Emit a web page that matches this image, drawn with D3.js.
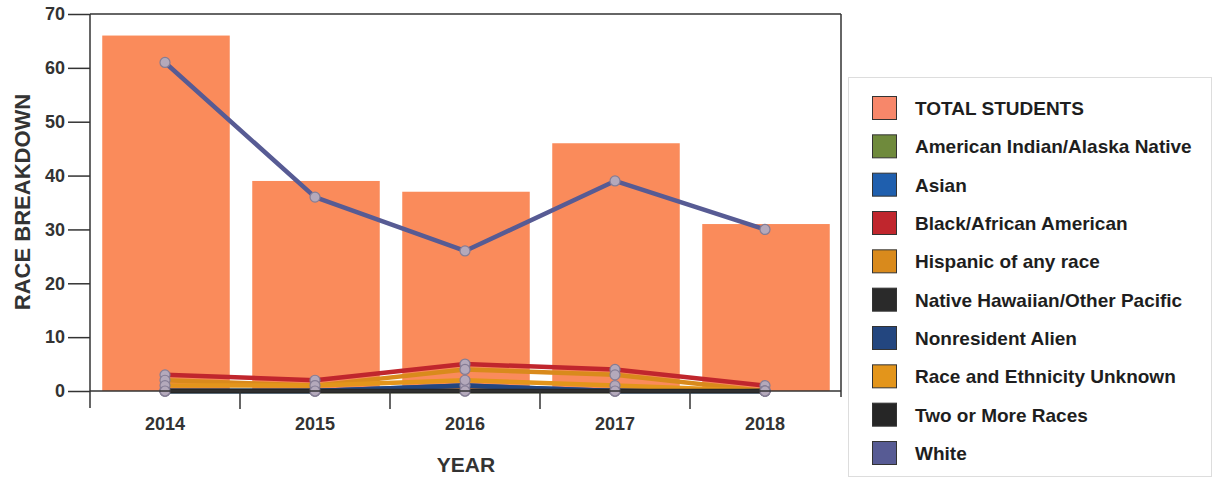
<!DOCTYPE html>
<html>
<head>
<meta charset="utf-8">
<script src="https://cdn.jsdelivr.net/npm/d3@7"></script>
<style>
  html, body { margin: 0; padding: 0; background: #ffffff; }
  svg { display: block; font-family: "Liberation Sans", Arial, sans-serif; }
</style>
</head>
<body>
<svg id="chart" width="1217" height="480"></svg>
<script>
// Enrollment by race, 2014-2018
const years = ["2014", "2015", "2016", "2017", "2018"];
const totalStudents = [66, 39, 37, 46, 31];

const americanIndian = [0, 0, 0, 0, 0];
const asian = [0, 0, 1, 0, 0];
const blackAfricanAmerican = [3, 2, 5, 4, 1];
const hispanic = [2, 1, 4, 3, 0];
const nativeHawaiian = [0, 0, 0, 0, 0];
const nonresidentAlien = [0, 0, 1, 0, 0];
const raceUnknown = [1, 1, 2, 1, 0];
const twoOrMore = [0, 0, 0, 0, 0];
const white = [61, 36, 26, 39, 30];

const yTicks = [0, 10, 20, 30, 40, 50, 60, 70];

const seriesNames = [
  "American Indian/Alaska Native", "Asian", "Black/African American",
  "Hispanic of any race", "Native Hawaiian/Other Pacific", "Nonresident Alien",
  "Race and Ethnicity Unknown", "Two or More Races", "White"
];
const seriesValues = [
  americanIndian, asian, blackAfricanAmerican, hispanic, nativeHawaiian,
  nonresidentAlien, raceUnknown, twoOrMore, white
];
const seriesColors = [
  "#6f8a3c", "#1f5fae", "#c0262d", "#d98a1c", "#2a2a2a",
  "#23467f", "#e3951b", "#262626", "#575b94"
];
const barColor = "#fa8b5b";
const barLegendColor = "#f7876a";

const svg = d3.select("#chart");

const plot = { left: 90, right: 841, top: 14, bottom: 391 };

const x = d3.scaleBand().domain(years).range([plot.left, plot.left + 750]).padding(0);
const y = d3.scaleLinear().domain([0, 70]).range([plot.bottom, plot.top]);

// Bars: total students
const barW = x.bandwidth() * 0.85;
svg.append("g").selectAll("rect")
  .data(years)
  .join("rect")
  .attr("x", (d) => x(d) + (x.bandwidth() - barW) / 2 + 1)
  .attr("width", barW)
  .attr("y", (d, i) => y(totalStudents[i]))
  .attr("height", (d, i) => y(0) - y(totalStudents[i]))
  .attr("fill", barColor);

// Frame: top and right edges
svg.append("line")
  .attr("x1", plot.left).attr("x2", plot.right)
  .attr("y1", plot.top).attr("y2", plot.top)
  .attr("stroke", "#333").attr("stroke-width", 1.5);
svg.append("line")
  .attr("x1", plot.right).attr("x2", plot.right)
  .attr("y1", plot.top).attr("y2", plot.bottom + 6)
  .attr("stroke", "#333").attr("stroke-width", 1.5);

// Lines per race
const line = d3.line()
  .x((d, i) => x(years[i]) + x.bandwidth() / 2)
  .y((d) => y(d));

seriesValues.forEach((vals, s) => {
  const g = svg.append("g");
  g.append("path")
    .datum(vals)
    .attr("d", line)
    .attr("fill", "none")
    .attr("stroke", seriesColors[s])
    .attr("stroke-width", 4.5)
    .attr("stroke-linejoin", "round");
  g.selectAll("circle")
    .data(vals)
    .join("circle")
    .attr("cx", (d, i) => x(years[i]) + x.bandwidth() / 2)
    .attr("cy", (d) => y(d))
    .attr("r", 5)
    .attr("fill", "#b4a9bb")
    .attr("stroke", "#857d95")
    .attr("stroke-width", 1.2);
});

// Y axis
const yAxis = svg.append("g")
  .attr("transform", `translate(${plot.left},0)`)
  .call(d3.axisLeft(y).tickValues(yTicks).tickSize(22).tickPadding(3).tickSizeOuter(0));
yAxis.select(".domain").remove();
yAxis.selectAll(".tick line").attr("stroke", "#333").attr("stroke-width", 1.5);
yAxis.selectAll(".tick text")
  .attr("fill", "#333").attr("font-size", 18).attr("font-weight", "bold")
  .attr("font-family", "'Liberation Sans', Arial, sans-serif");
svg.append("line")
  .attr("x1", plot.left).attr("x2", plot.left)
  .attr("y1", plot.top).attr("y2", plot.bottom + 17)
  .attr("stroke", "#333").attr("stroke-width", 1.5);

// X axis
const xAxis = svg.append("g")
  .attr("transform", `translate(0,${plot.bottom})`)
  .call(d3.axisBottom(x).tickSize(0).tickPadding(26));
xAxis.select(".domain").remove();
xAxis.selectAll(".tick text")
  .attr("fill", "#333").attr("font-size", 18).attr("font-weight", "bold")
  .attr("font-family", "'Liberation Sans', Arial, sans-serif");
svg.append("line")
  .attr("x1", plot.left).attr("x2", plot.right)
  .attr("y1", plot.bottom).attr("y2", plot.bottom)
  .attr("stroke", "#333").attr("stroke-width", 1.5);
svg.append("g").selectAll("line")
  .data(years.slice(1))
  .join("line")
  .attr("x1", (d) => x(d)).attr("x2", (d) => x(d))
  .attr("y1", plot.bottom).attr("y2", plot.bottom + 18)
  .attr("stroke", "#333").attr("stroke-width", 1.5);

// Axis titles
svg.append("text")
  .attr("transform", "translate(30,202) rotate(-90)")
  .attr("text-anchor", "middle")
  .attr("font-size", 22).attr("font-weight", "bold")
  .attr("fill", "#333")
  .text("RACE BREAKDOWN");
svg.append("text")
  .attr("x", 466).attr("y", 472)
  .attr("text-anchor", "middle")
  .attr("font-size", 21).attr("font-weight", "bold")
  .attr("fill", "#333")
  .text("YEAR");

// Legend
const legendLabels = ["TOTAL STUDENTS"].concat(seriesNames);
const legendColors = [barLegendColor].concat(seriesColors);
const legend = svg.append("g");
legend.append("rect")
  .attr("x", 848.5).attr("y", 77.5).attr("width", 363).attr("height", 399)
  .attr("fill", "#fff").attr("stroke", "#dddddd").attr("stroke-width", 1);
const rowY = d3.scaleLinear().domain([0, 9]).range([108, 453]);
const items = legend.selectAll("g.item")
  .data(legendLabels)
  .join("g")
  .attr("class", "item")
  .attr("transform", (d, i) => `translate(0,${rowY(i)})`);
items.append("rect")
  .attr("x", 872.5).attr("y", -11.5).attr("width", 24).attr("height", 23)
  .attr("fill", (d, i) => legendColors[i])
  .attr("stroke", "#333").attr("stroke-width", 1);
items.append("text")
  .attr("x", 915).attr("y", 0)
  .attr("dy", "0.36em")
  .attr("font-size", 19).attr("font-weight", "bold")
  .attr("fill", "#1e1e1e")
  .text((d) => d);
</script>
</body>
</html>
